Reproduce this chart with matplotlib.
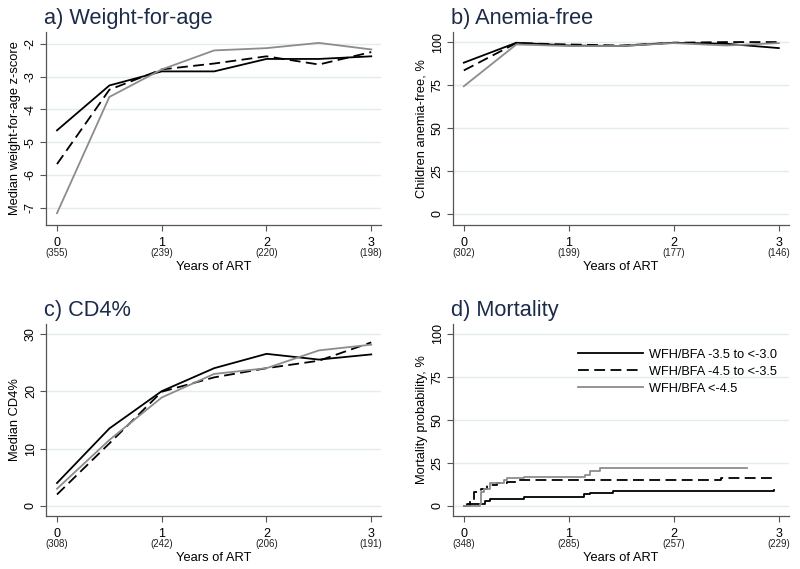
import numpy as np
import matplotlib
matplotlib.use("Agg")
import matplotlib.pyplot as plt
from matplotlib import transforms

plt.rcParams['font.family'] = ['Liberation Sans', 'DejaVu Sans']

# data
years = [0, 0.5, 1, 1.5, 2, 2.5, 3]
group_names = ['WFH/BFA -3.5 to <-3.0', 'WFH/BFA -4.5 to <-3.5', 'WFH/BFA <-4.5']

wfa_g1 = [-4.64, -3.27, -2.84, -2.84, -2.46, -2.46, -2.38]
wfa_g2 = [-5.67, -3.40, -2.78, -2.60, -2.38, -2.63, -2.25]
wfa_g3 = [-7.17, -3.62, -2.78, -2.20, -2.13, -1.97, -2.17]
wfa_n = [355, 239, 220, 198]

anemia_g1 = [88.0, 99.6, 98.0, 97.7, 99.6, 99.0, 96.5]
anemia_g2 = [83.5, 99.4, 98.6, 98.0, 99.6, 100.0, 100.0]
anemia_g3 = [74.3, 98.6, 97.7, 97.7, 99.4, 98.0, 99.4]
anemia_n = [302, 199, 177, 146]

cd4_g1 = [4.0, 13.5, 20.0, 24.0, 26.5, 25.5, 26.4]
cd4_g2 = [2.0, 10.9, 19.9, 22.4, 24.0, 25.3, 28.5]
cd4_g3 = [3.0, 11.5, 18.9, 23.0, 24.0, 27.1, 28.1]
cd4_n = [308, 242, 206, 191]

# Kaplan-Meier style step curves (time, cumulative mortality %)
mort_t1 = [0, 0.06, 0.20, 0.25, 0.57, 1.14, 1.20, 1.42, 2.95]
mort_y1 = [0, 1.0, 3.0, 4.0, 5.0, 7.0, 7.5, 8.3, 9.0]
mort_t2 = [0, 0.03, 0.06, 0.10, 0.16, 0.22, 0.32, 0.41, 0.50, 2.45, 2.98]
mort_y2 = [0, 1.0, 3.0, 8.0, 10.0, 12.0, 13.0, 14.0, 15.0, 16.0, 16.0]
mort_t3 = [0, 0.15, 0.16, 0.19, 0.25, 0.38, 0.41, 0.57, 1.15, 1.20, 1.30, 2.70]
mort_y3 = [0, 1.0, 8.0, 10.0, 13.0, 15.0, 16.0, 17.0, 18.0, 20.0, 22.0, 22.0]
mort_n = [348, 285, 257, 229]

styles = [dict(color='black', lw=1.3, ls='-'),
          dict(color='black', lw=1.3, ls=(0, (6, 3))),
          dict(color='#8c8c8c', lw=1.3, ls='-')]

title_color = '#1c2b4a'
grid_color = '#e3eded'
spine_color = '#555555'

fig = plt.figure(figsize=(8, 5.69), dpi=100)
ax_a = fig.add_axes([0.0575, 0.6046, 0.419, 0.339])
ax_b = fig.add_axes([0.566, 0.6046, 0.420, 0.339])
ax_c = fig.add_axes([0.0575, 0.0931, 0.419, 0.3375])
ax_d = fig.add_axes([0.566, 0.0931, 0.420, 0.3375])


def style_axes(ax, title, ylabel, yticks, ylim, counts):
    ax.set_xlim(-0.105, 3.095)
    ax.set_ylim(*ylim)
    for s in ['top', 'right']:
        ax.spines[s].set_visible(False)
    for s in ['left', 'bottom']:
        ax.spines[s].set_color(spine_color)
        ax.spines[s].set_linewidth(0.9)
    ax.set_yticks(yticks)
    ax.set_xticks([0, 1, 2, 3])
    ax.set_yticklabels([str(v) for v in yticks], rotation=90, va='center', fontsize=9)
    ax.tick_params(axis='x', labelsize=9, pad=4.5, length=4, color=spine_color)
    ax.tick_params(axis='y', pad=2.5, length=4, color=spine_color)
    ax.grid(axis='y', color=grid_color, lw=1.0)
    ax.set_axisbelow(True)
    ax.set_xlabel('Years of ART', fontsize=9.3, labelpad=9)
    ax.set_ylabel(ylabel, fontsize=9.3, labelpad=3)
    ax.set_title(title, loc='left', fontsize=15.7, color=title_color, pad=5.5, x=-0.005)
    trans = transforms.blended_transform_factory(ax.transData, ax.transAxes)
    for xv, n in zip([0, 1, 2, 3], counts):
        ax.text(xv, -0.145, '(%d)' % n, transform=trans, ha='center', va='center', fontsize=7, color='#222222')


for ys, st in zip([wfa_g1, wfa_g2, wfa_g3], styles):
    ax_a.plot(years, ys, **st)
style_axes(ax_a, 'a) Weight-for-age', 'Median weight-for-age z-score',
           [-7, -6, -5, -4, -3, -2], (-7.53, -1.64), wfa_n)

for ys, st in zip([anemia_g1, anemia_g2, anemia_g3], styles):
    ax_b.plot(years, ys, **st)
style_axes(ax_b, 'b) Anemia-free', 'Children anemia-free, %',
           [0, 25, 50, 75, 100], (-6.4, 105.8), anemia_n)

for ys, st in zip([cd4_g1, cd4_g2, cd4_g3], styles):
    ax_c.plot(years, ys, **st)
style_axes(ax_c, 'c) CD4%', 'Median CD4%',
           [0, 10, 20, 30], (-1.75, 31.7), cd4_n)

for (t, ys), st, name in zip([(mort_t1, mort_y1), (mort_t2, mort_y2), (mort_t3, mort_y3)], styles, group_names):
    ax_d.step(t, ys, where='post', label=name, **st)
style_axes(ax_d, 'd) Mortality', 'Mortality probability, %',
           [0, 25, 50, 75, 100], (-6.0, 105.8), mort_n)
ax_d.legend(loc='upper right', bbox_to_anchor=(1.0, 0.93), frameon=False, fontsize=9.2,
            handlelength=5.1, handletextpad=0.47, labelspacing=0.38)

fig.savefig('out.png', dpi=100)
